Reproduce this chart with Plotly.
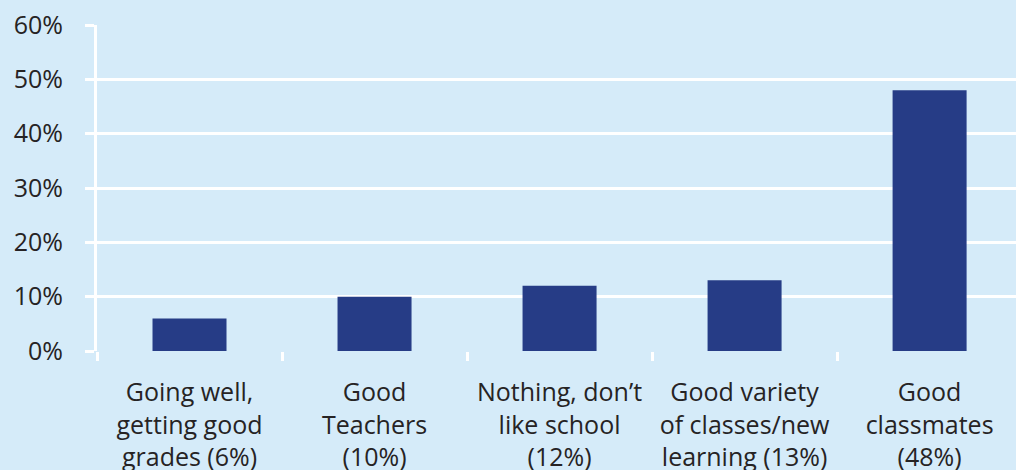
import plotly.graph_objects as go

# Survey responses: what students like most about school
categories = [
    "Going well,<br>getting good<br>grades (6%)",
    "Good<br>Teachers<br>(10%)",
    "Nothing, don’t<br>like school<br>(12%)",
    "Good variety<br>of classes/new<br>learning (13%)",
    "Good<br>classmates<br>(48%)",
]
values = [6, 10, 12, 13, 48]
y_ticks = [0, 10, 20, 30, 40, 50, 60]
y_tick_labels = ["0%", "10%", "20%", "30%", "40%", "50%", "60%"]

bg = "#d5ebf9"
bar_color = "#263c86"
text_color = "#262324"
font_family = "Open Sans, Noto Sans, sans-serif"

positions = list(range(len(categories)))

fig = go.Figure(
    go.Bar(
        x=positions,
        y=values,
        width=0.4,
        marker=dict(color=bar_color, line=dict(width=0)),
    )
)

boundaries = [p - 0.5 for p in positions] + [positions[-1] + 0.5]

fig.update_layout(
    width=1016,
    height=470,
    margin=dict(l=97, r=0, t=25, b=119),
    paper_bgcolor=bg,
    plot_bgcolor=bg,
    showlegend=False,
    font=dict(family=font_family, size=25, color=text_color),
    xaxis=dict(
        range=[-0.5, 4.467],
        tickvals=positions,
        ticktext=categories,
        ticks="",
        showgrid=False,
        zeroline=False,
        showline=False,
        automargin=False,
        ticklabelstandoff=24,
        minor=dict(
            tickvals=boundaries,
            ticks="outside",
            ticklen=9,
            tickwidth=3,
            tickcolor="white",
            showgrid=False,
        ),
    ),
    yaxis=dict(
        range=[0, 60],
        tickvals=y_ticks,
        ticktext=y_tick_labels,
        ticks="outside",
        ticklen=9,
        tickwidth=3,
        tickcolor="white",
        showgrid=True,
        gridcolor="white",
        gridwidth=3,
        zeroline=False,
        showline=True,
        linecolor="white",
        linewidth=3,
        automargin=False,
        ticklabelstandoff=17,
    ),
)

fig.write_html("out.html")
